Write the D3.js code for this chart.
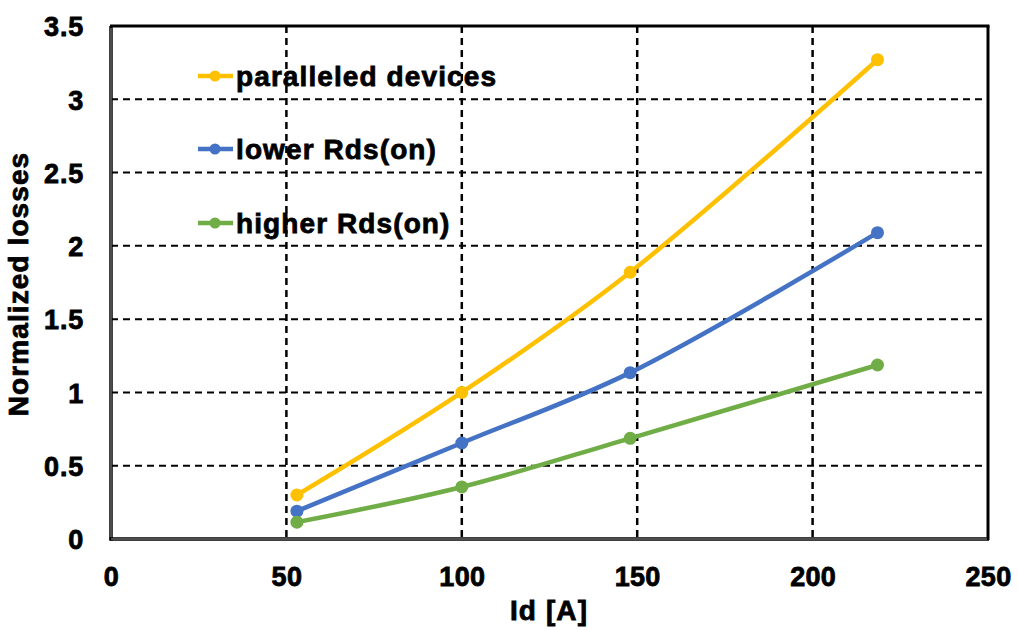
<!DOCTYPE html>
<html>
<head>
<meta charset="utf-8">
<script src="https://cdn.jsdelivr.net/npm/d3@7"></script>
<style>
  html, body { margin: 0; padding: 0; background: #fff; }
  svg { display: block; }
  text { font-family: "Liberation Sans", Arial, sans-serif; font-weight: bold; fill: #000; stroke: #000; stroke-width: 0.8px; }
</style>
</head>
<body>
<svg id="chart" width="1018" height="630"></svg>
<script>
const xValues = [53, 100, 148, 218.5];
const seriesNames = ["paralleled devices", "lower Rds(on)", "higher Rds(on)"];
const paralleled = [0.30, 1.00, 1.82, 3.27];
const lowerRds = [0.19, 0.655, 1.135, 2.09];
const higherRds = [0.115, 0.355, 0.687, 1.187];
const seriesColors = ["#FFC000", "#4472C4", "#70AD47"];
const xTicks = [0, 50, 100, 150, 200, 250];
const yTicks = [0, 0.5, 1, 1.5, 2, 2.5, 3, 3.5];
const xTitle = "Id [A]";
const yTitle = "Normalized losses";

const series = [paralleled, lowerRds, higherRds];
const svg = d3.select("#chart");
const m = { left: 111, right: 988, top: 26, bottom: 539 };

const x = d3.scaleLinear().domain([0, 250]).range([m.left, m.right]);
const y = d3.scaleLinear().domain([0, 3.5]).range([m.bottom, m.top]);

// grid
const grid = svg.append("g");
grid.selectAll("line.h").data(yTicks.filter(d => d > 0 && d < 3.5)).enter().append("line")
  .attr("x1", m.left).attr("x2", m.right)
  .attr("y1", d => y(d)).attr("y2", d => y(d))
  .attr("stroke", "#000").attr("stroke-width", 2).attr("stroke-dasharray", "7,5");
grid.selectAll("line.v").data(xTicks.filter(d => d > 0 && d < 250)).enter().append("line")
  .attr("y1", m.top).attr("y2", m.bottom)
  .attr("x1", d => x(d)).attr("x2", d => x(d))
  .attr("stroke", "#000").attr("stroke-width", 2.5).attr("stroke-dasharray", "7,5");

// frame
svg.append("line").attr("x1", m.left - 1).attr("x2", m.right + 1.5).attr("y1", m.top).attr("y2", m.top)
  .attr("stroke", "#000").attr("stroke-width", 3);
svg.append("line").attr("x1", m.right).attr("x2", m.right).attr("y1", m.top).attr("y2", m.bottom + 1)
  .attr("stroke", "#000").attr("stroke-width", 3);
svg.append("line").attr("x1", m.left).attr("x2", m.left).attr("y1", m.top).attr("y2", m.bottom + 1.5)
  .attr("stroke", "#000").attr("stroke-width", 3.5);
svg.append("line").attr("x1", m.left).attr("x2", m.left).attr("y1", m.top + 2).attr("y2", m.bottom)
  .attr("stroke", "#999").attr("stroke-width", 1);
svg.append("line").attr("x1", m.left - 1.5).attr("x2", m.right + 1).attr("y1", m.bottom).attr("y2", m.bottom)
  .attr("stroke", "#000").attr("stroke-width", 3.5);
svg.append("line").attr("x1", m.left).attr("x2", m.right - 1).attr("y1", m.bottom).attr("y2", m.bottom)
  .attr("stroke", "#999").attr("stroke-width", 1);

// axes labels
const xAxis = d3.axisBottom(x).tickValues(xTicks).tickSize(0).tickPadding(0);
const gx = svg.append("g").attr("transform", `translate(0,${m.bottom})`).call(xAxis);
gx.select(".domain").remove();
gx.selectAll("text").attr("y", 47).attr("dy", 0).attr("font-size", 27)
  .style("font-family", '"Liberation Sans", Arial, sans-serif').style("font-weight", "bold")
  .style("letter-spacing", "0.3px");

const yAxis = d3.axisLeft(y).tickValues(yTicks).tickSize(0).tickPadding(0).tickFormat(d3.format("~g"));
const gy = svg.append("g").attr("transform", `translate(${m.left},0)`).call(yAxis);
gy.select(".domain").remove();
gy.selectAll("text").attr("x", -27).attr("dy", "0.36em").attr("font-size", 27)
  .style("font-family", '"Liberation Sans", Arial, sans-serif').style("font-weight", "bold")
  .style("letter-spacing", "0.8px");

svg.append("text").attr("x", 549).attr("y", 620).attr("text-anchor", "middle")
  .attr("font-size", 28).style("letter-spacing", "1.1px").text(xTitle);
svg.append("text").attr("transform", "translate(28,284) rotate(-90)").attr("text-anchor", "middle")
  .attr("font-size", 28).style("letter-spacing", "1.1px").text(yTitle);

// series
const line = d3.line().x((d, i) => x(xValues[i])).y(d => y(d)).curve(d3.curveCatmullRom.alpha(0.5));
series.forEach((s, k) => {
  svg.append("path").datum(s).attr("d", line).attr("fill", "none")
    .attr("stroke", seriesColors[k]).attr("stroke-width", 4.5).attr("stroke-linecap", "round");
  svg.selectAll(null).data(s).enter().append("circle")
    .attr("cx", (d, i) => x(xValues[i])).attr("cy", d => y(d)).attr("r", 6.5)
    .attr("fill", seriesColors[k]);
});

// legend
const legY = [76, 149, 223];
seriesNames.forEach((n, k) => {
  const g = svg.append("g");
  g.append("line").attr("x1", 198).attr("x2", 233).attr("y1", legY[k]).attr("y2", legY[k])
    .attr("stroke", seriesColors[k]).attr("stroke-width", 4.5);
  g.append("circle").attr("cx", 215).attr("cy", legY[k]).attr("r", 5.5).attr("fill", seriesColors[k]);
  g.append("text").attr("x", 236).attr("y", legY[k]).attr("dy", "0.36em").attr("font-size", 28)
    .style("letter-spacing", "1.1px").text(n);
});
</script>
</body>
</html>
